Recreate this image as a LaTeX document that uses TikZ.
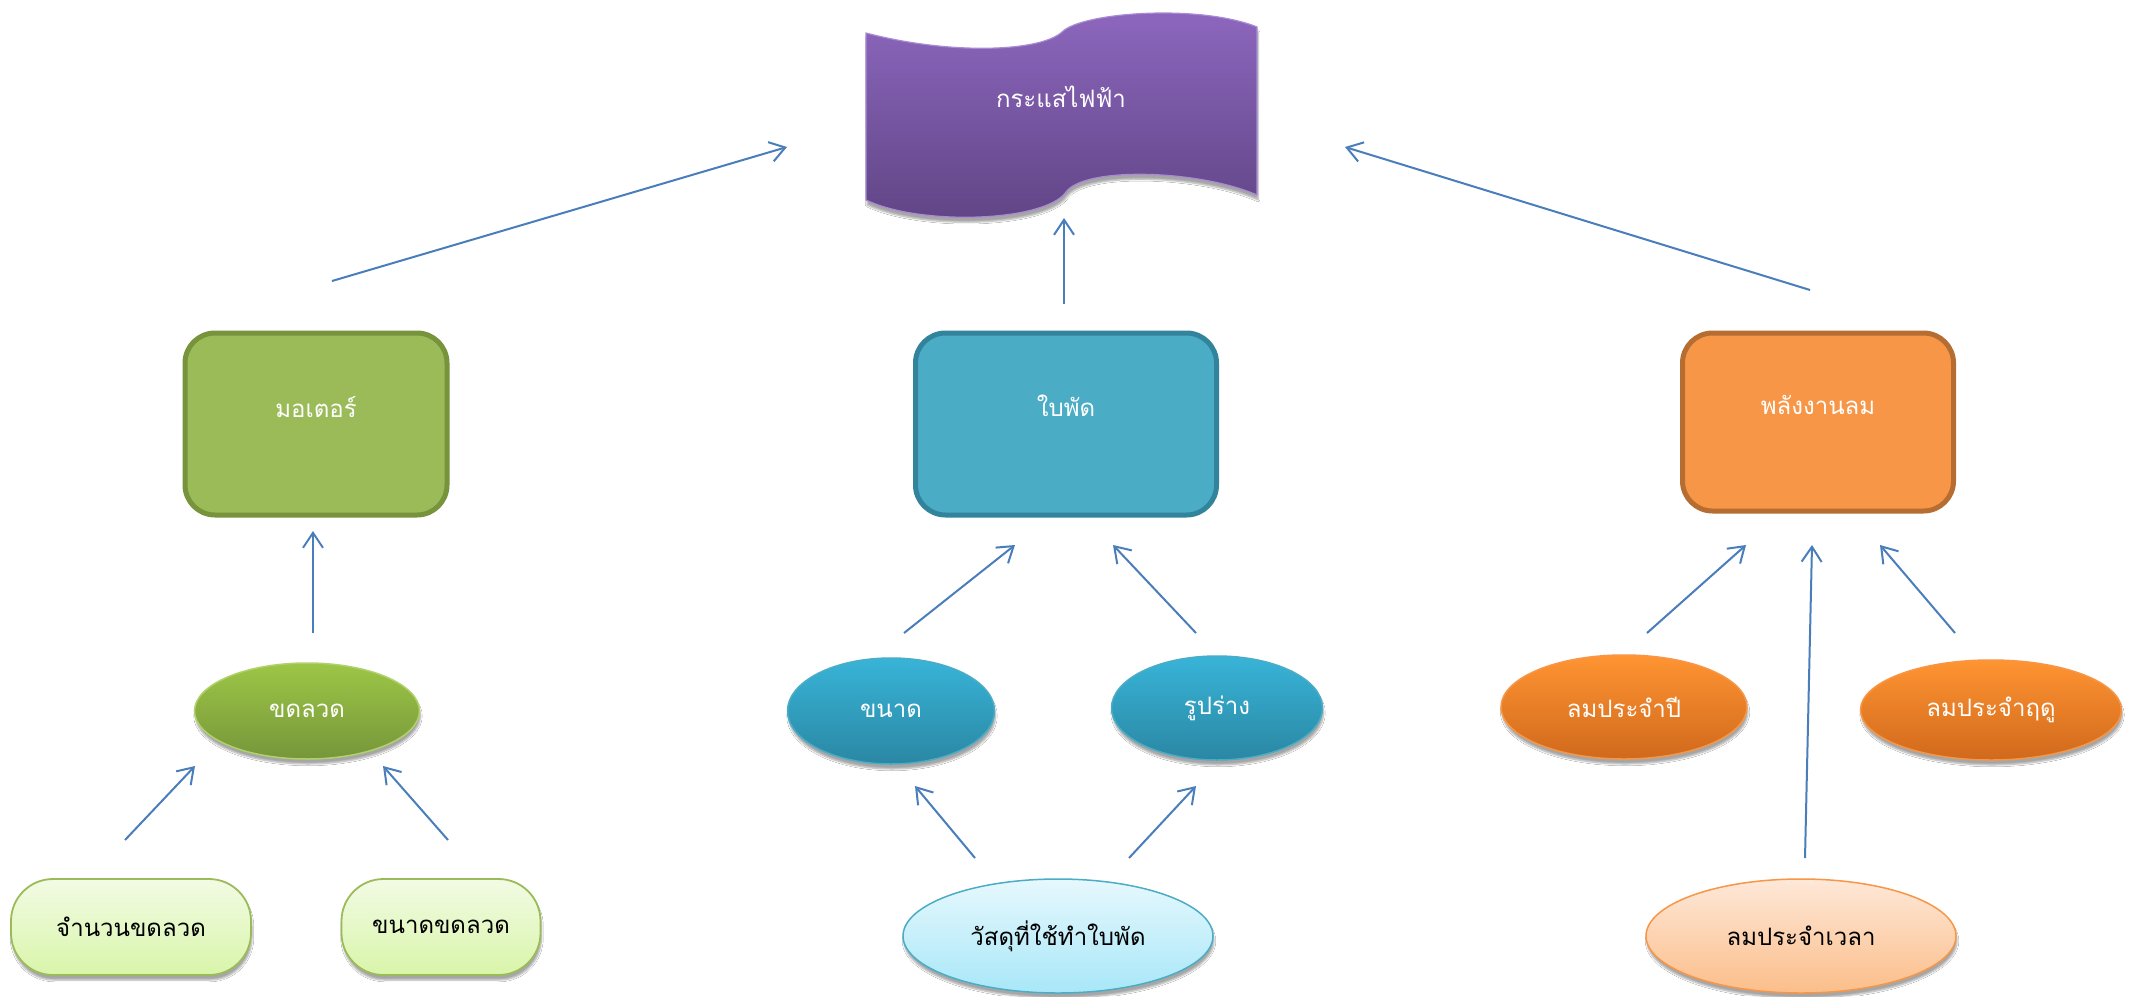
\documentclass[tikz,border=0pt]{standalone}
\usepackage{fontspec}
\newfontfamily\thai[Script=Thai]{Loma}
\usetikzlibrary{arrows.meta,shapes.geometric,shadows,shadows.blur}

\definecolor{arrowblue}{HTML}{4A7EBB}
\definecolor{bannertop}{HTML}{8E68C0}
\definecolor{bannerbot}{HTML}{5F4484}
\definecolor{bannerrim}{HTML}{A88BD2}
\definecolor{motorfill}{HTML}{9BBB59}
\definecolor{motordraw}{HTML}{77933C}
\definecolor{bladefill}{HTML}{4BACC6}
\definecolor{bladedraw}{HTML}{31849B}
\definecolor{windfill}{HTML}{F79646}
\definecolor{winddraw}{HTML}{B66D31}
\definecolor{greentop}{HTML}{9DC646}
\definecolor{greenbot}{HTML}{76963A}
\definecolor{paletop}{HTML}{F2FBE4}
\definecolor{palebot}{HTML}{D9F5AA}
\definecolor{bluetop}{HTML}{38B4D8}
\definecolor{bluebot}{HTML}{2A87A3}
\definecolor{skytop}{HTML}{E6F8FD}
\definecolor{skybot}{HTML}{A8E7F8}
\definecolor{orangetop}{HTML}{FF9432}
\definecolor{orangebot}{HTML}{D0691C}
\definecolor{peachtop}{HTML}{FEE8D8}
\definecolor{peachbot}{HTML}{FBBE8A}

\tikzset{
  base/.style={font=\thai\fontsize{24}{29}\selectfont, inner sep=0pt},
  lighttext/.style={base, text=white},
  darktext/.style={base, text=black},
  softshadow/.style={blur shadow={shadow xshift=1pt, shadow yshift=-5pt, shadow blur steps=6, shadow opacity=35}},
  bigbox/.style={rectangle, rounded corners=30pt, line width=5pt},
  oval/.style={ellipse, inner sep=0pt, line width=1.5pt, softshadow},
  pill/.style={rectangle, rounded corners=42pt, line width=1.8pt, draw=motorfill,
               top color=paletop, bottom color=palebot, softshadow, darktext},
  conn/.style={draw=arrowblue, line width=2pt, -{Straight Barb[length=15pt,width=20pt]}}
}

\begin{document}
\begin{tikzpicture}[x=1pt,y=-1pt]
\useasboundingbox[fill=white] (0,0) rectangle (2136,996);

% wavy banner at the top
\path[top color=bannertop, bottom color=bannerbot, draw=bannerrim, line width=1.2pt, softshadow]
  (866,33) .. controls (950,55) and (1040,52) .. (1062,32)
  .. controls (1082,12) and (1200,4) .. (1257,27)
  -- (1257,195)
  .. controls (1200,170) and (1085,166) .. (1066,192)
  .. controls (1045,222) and (920,226) .. (866,200) -- cycle;
\node[lighttext] (current) at (1061,97) {กระแสไฟฟ้า};

% second row: rounded boxes
\node[bigbox, fill=motorfill, draw=motordraw, minimum width=262pt, minimum height=182pt] (motor) at (316,424) {};
\node[lighttext] (motor-t) at ([yshift=17pt]motor.center) {มอเตอร์};

\node[bigbox, fill=bladefill, draw=bladedraw, minimum width=301pt, minimum height=182pt] (blade) at (1066,424) {};
\node[lighttext] (blade-t) at ([yshift=18pt]blade.center) {ใบพัด};

\node[bigbox, fill=windfill, draw=winddraw, minimum width=271pt, minimum height=178pt] (wind) at (1818,422) {};
\node[lighttext] (wind-t) at ([yshift=17pt]wind.center) {พลังงานลม};

% third row: ellipses
\node[oval, top color=greentop, bottom color=greenbot, draw=greentop!80!white, minimum width=225pt, minimum height=96pt, lighttext] (coil) at (307,711) {ขดลวด};
\node[oval, top color=bluetop, bottom color=bluebot, draw=bladefill, minimum width=207pt, minimum height=106pt, lighttext] (size) at (891,711) {ขนาด};
\node[oval, top color=bluetop, bottom color=bluebot, draw=bladefill, minimum width=211pt, minimum height=104pt, lighttext] (shape) at (1217,708) {รูปร่าง};
\node[oval, top color=orangetop, bottom color=orangebot, draw=windfill, minimum width=246pt, minimum height=104pt, lighttext] (yearly) at (1624,707) {ลมประจำปี};
\node[oval, top color=orangetop, bottom color=orangebot, draw=windfill, minimum width=261pt, minimum height=100pt, lighttext] (season) at (1991,710) {ลมประจำฤดู};

% bottom row
\node[pill, minimum width=240pt, minimum height=96pt] (count) at (131,927) {จำนวนขดลวด};
\node[pill, minimum width=199pt, minimum height=96pt] (coilsize) at (441,927) {ขนาดขดลวด};
\node[oval, top color=skytop, bottom color=skybot, draw=bladefill, minimum width=310pt, minimum height=114pt, darktext] (material) at (1058,936) {วัสดุที่ใช้ทำใบพัด};
\node[oval, top color=peachtop, bottom color=peachbot, draw=windfill, minimum width=310pt, minimum height=114pt, darktext] (daily) at (1801,936) {ลมประจำเวลา};

% arrow end points
\coordinate (motor-out) at (332,281);   \coordinate (current-in1) at (787,147);
\coordinate (blade-out) at (1064,304);  \coordinate (current-in2) at (1064,218);
\coordinate (wind-out) at (1810,290);   \coordinate (current-in3) at (1345,147);
\coordinate (coil-out) at (313,633);    \coordinate (motor-in) at (313,531);
\coordinate (count-out) at (125,840);   \coordinate (coil-in1) at (195,766);
\coordinate (coilsize-out) at (448,840);\coordinate (coil-in2) at (383,766);
\coordinate (size-out) at (904,633);    \coordinate (blade-in1) at (1015,545);
\coordinate (shape-out) at (1196,633);  \coordinate (blade-in2) at (1113,545);
\coordinate (material-out1) at (975,858);  \coordinate (size-in) at (915,786);
\coordinate (material-out2) at (1129,858); \coordinate (shape-in) at (1196,786);
\coordinate (yearly-out) at (1647,633); \coordinate (wind-in1) at (1746,545);
\coordinate (daily-out) at (1805,858);  \coordinate (wind-in2) at (1812,545);
\coordinate (season-out) at (1955,633); \coordinate (wind-in3) at (1880,545);

\draw[conn] (motor-out) -- (current-in1);
\draw[conn] (blade-out) -- (current-in2);
\draw[conn] (wind-out) -- (current-in3);
\draw[conn] (coil-out) -- (motor-in);
\draw[conn] (count-out) -- (coil-in1);
\draw[conn] (coilsize-out) -- (coil-in2);
\draw[conn] (size-out) -- (blade-in1);
\draw[conn] (shape-out) -- (blade-in2);
\draw[conn] (material-out1) -- (size-in);
\draw[conn] (material-out2) -- (shape-in);
\draw[conn] (yearly-out) -- (wind-in1);
\draw[conn] (daily-out) -- (wind-in2);
\draw[conn] (season-out) -- (wind-in3);
\end{tikzpicture}
\end{document}
